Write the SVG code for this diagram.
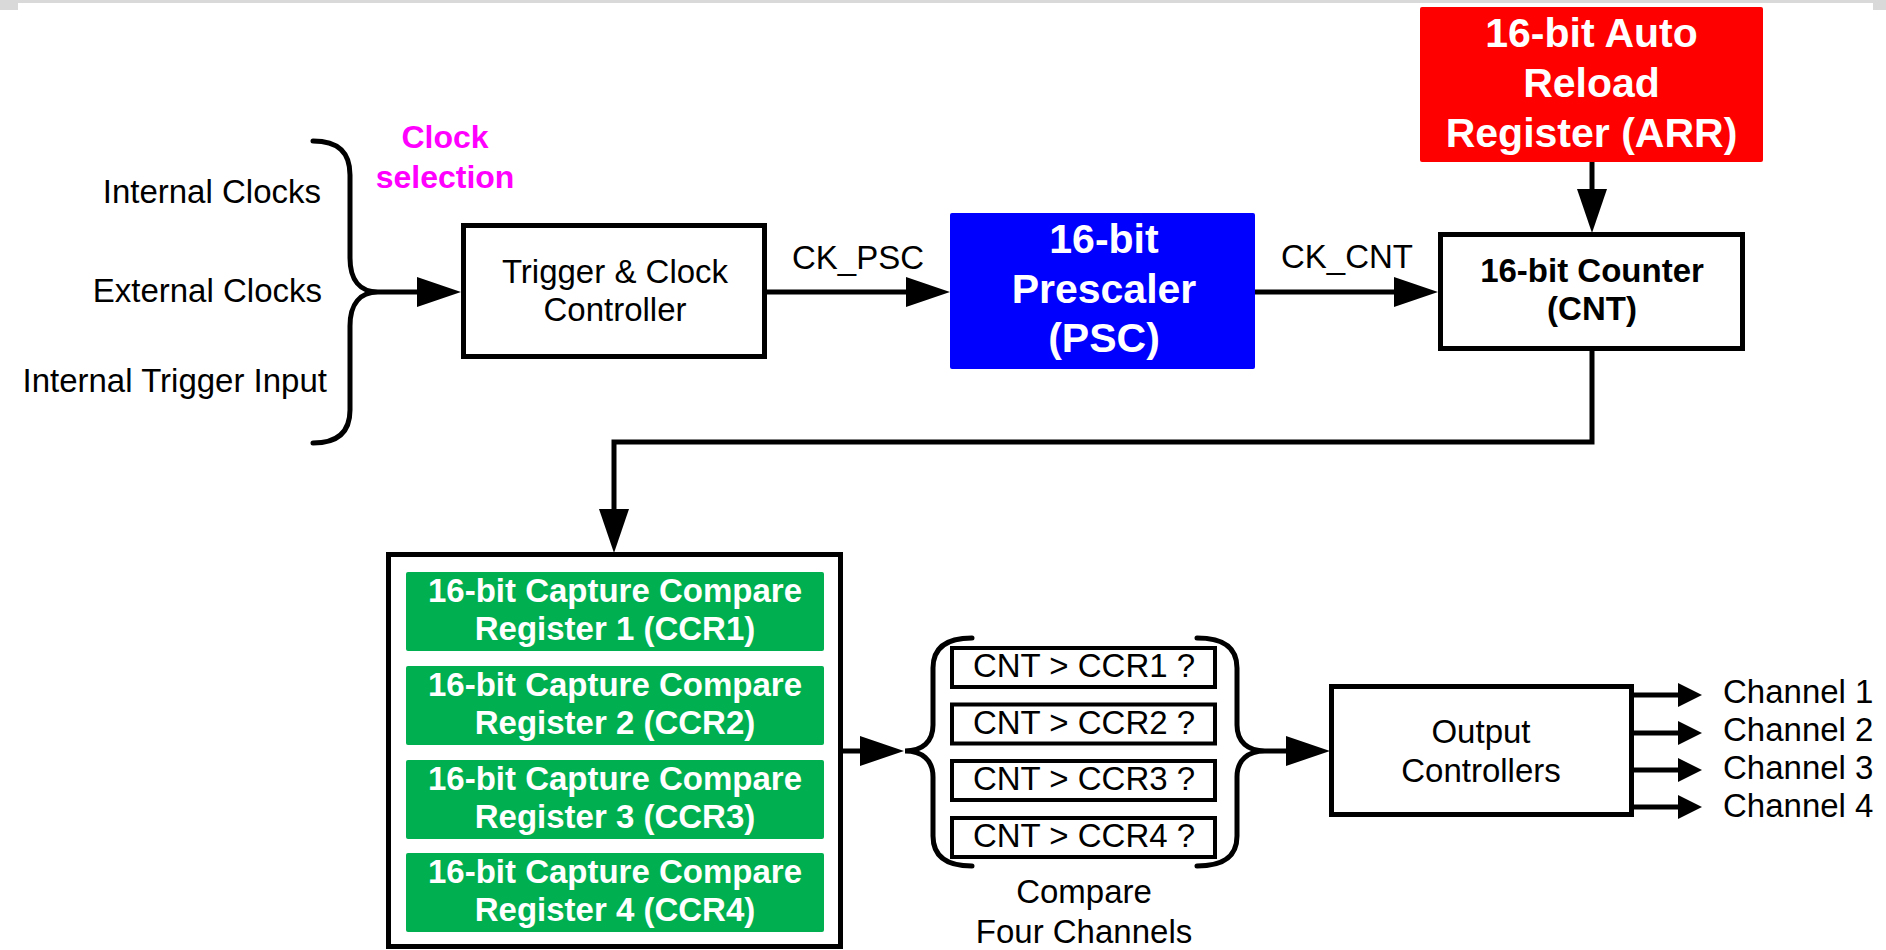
<svg xmlns="http://www.w3.org/2000/svg" width="1886" height="950" viewBox="0 0 1886 950">
<defs>
<style>
text { font-family: "Liberation Sans", Arial, sans-serif; }
.r { font-size: 33px; fill: #000; }
.c { text-anchor: middle; }
.e { text-anchor: end; }
.b { font-weight: bold; }
.w { fill: #fff; }
.box { fill: #fff; stroke: #000; stroke-width: 5; }
.cmp { fill: #fff; stroke: #000; stroke-width: 4; }
.grn { fill: #00B050; }
.ln { fill: none; stroke: #000; stroke-width: 5; }
.br { fill: none; stroke: #000; stroke-width: 5; stroke-linecap: round; }
</style>
<marker id="ah" markerUnits="userSpaceOnUse" markerWidth="44" markerHeight="30" refX="24" refY="15" orient="auto">
<path d="M0,0 L44,15 L0,30 Z" fill="#000"/>
</marker>
<marker id="as" markerUnits="userSpaceOnUse" markerWidth="24" markerHeight="24" refX="14" refY="12" orient="auto">
<path d="M0,0 L24,12 L0,24 Z" fill="#000"/>
</marker>
</defs>
<rect x="0" y="0" width="1886" height="950" fill="#fff"/>
<rect x="0" y="0" width="1886" height="3" fill="#d9d9d9"/>
<rect x="0" y="0" width="18" height="10" fill="#d9d9d9"/>
<rect x="1873" y="0" width="13" height="10" fill="#d9d9d9"/>

<g id="inputs">
<text class="r e" x="321" y="203">Internal Clocks</text>
<text class="r e" x="322" y="302">External Clocks</text>
<text class="r e" x="327" y="392">Internal Trigger Input</text>
<path class="br" d="M313,141 C338,141 350,152 350,175 L350,258 C350,280 360,292 378,292 C360,292 350,304 350,326 L350,410 C350,432 338,443 313,443"/>
</g>
<g id="clock-selection">
<text class="c b" x="445" y="148" font-size="32" fill="#FF00FF">Clock</text>
<text class="c b" x="445" y="188" font-size="32" fill="#FF00FF">selection</text>
</g>

<g id="trigger">
<rect class="box" x="463.5" y="225.5" width="301" height="131"/>
<text class="r c" x="615" y="283">Trigger &amp; Clock</text>
<text class="r c" x="615" y="321">Controller</text>
</g>

<g id="psc">
<rect x="950" y="213" width="305" height="156" fill="#0000FF" rx="2"/>
<text class="c b w" x="1104" y="253" font-size="41">16-bit</text>
<text class="c b w" x="1104" y="303" font-size="41">Prescaler</text>
<text class="c b w" x="1104" y="352" font-size="41">(PSC)</text>
</g>

<g id="arr">
<rect x="1420" y="7" width="343" height="155" fill="#FF0000" rx="2"/>
<text class="c b w" x="1591.5" y="47" font-size="41">16-bit Auto</text>
<text class="c b w" x="1591.5" y="97" font-size="41">Reload</text>
<text class="c b w" x="1591.5" y="147" font-size="41">Register (ARR)</text>
</g>

<g id="cnt">
<rect class="box" x="1440.5" y="234.5" width="302" height="114"/>
<text class="r c b" x="1592" y="282">16-bit Counter</text>
<text class="r c b" x="1592" y="320">(CNT)</text>
</g>

<g id="ccr">
<rect class="box" x="388.5" y="554.5" width="452" height="392"/>
<g id="ccr1">
<rect class="grn" x="406" y="572" width="418" height="79" rx="2"/>
<text class="r c b w" x="615" y="602">16-bit Capture Compare</text>
<text class="r c b w" x="615" y="640">Register 1 (CCR1)</text>
</g>
<g id="ccr2">
<rect class="grn" x="406" y="666" width="418" height="79" rx="2"/>
<text class="r c b w" x="615" y="696">16-bit Capture Compare</text>
<text class="r c b w" x="615" y="734">Register 2 (CCR2)</text>
</g>
<g id="ccr3">
<rect class="grn" x="406" y="760" width="418" height="79" rx="2"/>
<text class="r c b w" x="615" y="790">16-bit Capture Compare</text>
<text class="r c b w" x="615" y="828">Register 3 (CCR3)</text>
</g>
<g id="ccr4">
<rect class="grn" x="406" y="853" width="418" height="79" rx="2"/>
<text class="r c b w" x="615" y="883">16-bit Capture Compare</text>
<text class="r c b w" x="615" y="921">Register 4 (CCR4)</text>
</g>
</g>

<g id="compare">
<path class="br" d="M972,638 C950,638 933,645 933,668 L933,725 C933,742 922,751 905,751 C922,751 933,760 933,777 L933,836 C933,859 950,866 972,866"/>
<path class="br" d="M1197,638 C1220,638 1237,645 1237,668 L1237,725 C1237,742 1248,751 1265,751 C1248,751 1237,760 1237,777 L1237,836 C1237,859 1220,866 1197,866"/>
<rect class="cmp" x="952" y="648" width="263" height="39"/>
<text class="r c" x="1084" y="677">CNT &gt; CCR1 ?</text>
<rect class="cmp" x="952" y="704.5" width="263" height="39"/>
<text class="r c" x="1084" y="733.5">CNT &gt; CCR2 ?</text>
<rect class="cmp" x="952" y="761" width="263" height="39"/>
<text class="r c" x="1084" y="790">CNT &gt; CCR3 ?</text>
<rect class="cmp" x="952" y="818" width="263" height="39"/>
<text class="r c" x="1084" y="847">CNT &gt; CCR4 ?</text>
<text class="r c" x="1084" y="903">Compare</text>
<text class="r c" x="1084" y="943">Four Channels</text>
</g>

<g id="output">
<rect class="box" x="1331.5" y="686.5" width="300" height="128"/>
<text class="r c" x="1481" y="743">Output</text>
<text class="r c" x="1481" y="782">Controllers</text>
</g>

<g id="channels">
<text class="r" x="1723" y="703">Channel 1</text>
<text class="r" x="1723" y="741">Channel 2</text>
<text class="r" x="1723" y="779">Channel 3</text>
<text class="r" x="1723" y="817">Channel 4</text>
</g>

<g id="connectors">
<path class="ln" d="M378,292 H441" marker-end="url(#ah)"/>
<text class="r c" x="858" y="269">CK_PSC</text>
<path class="ln" d="M765,292 H930" marker-end="url(#ah)"/>
<text class="r c" x="1347" y="268">CK_CNT</text>
<path class="ln" d="M1255,292 H1418" marker-end="url(#ah)"/>
<path class="ln" d="M1592,162 V213" marker-end="url(#ah)"/>
<path class="ln" d="M1592,349 V442 H614 V533" marker-end="url(#ah)"/>
<path class="ln" d="M841,751 H884" marker-end="url(#ah)"/>
<path class="ln" d="M1265,751 H1310" marker-end="url(#ah)"/>
<path class="ln" d="M1632,695 H1692" marker-end="url(#as)"/>
<path class="ln" d="M1632,733 H1692" marker-end="url(#as)"/>
<path class="ln" d="M1632,770 H1692" marker-end="url(#as)"/>
<path class="ln" d="M1632,807 H1692" marker-end="url(#as)"/>
</g>
</svg>
